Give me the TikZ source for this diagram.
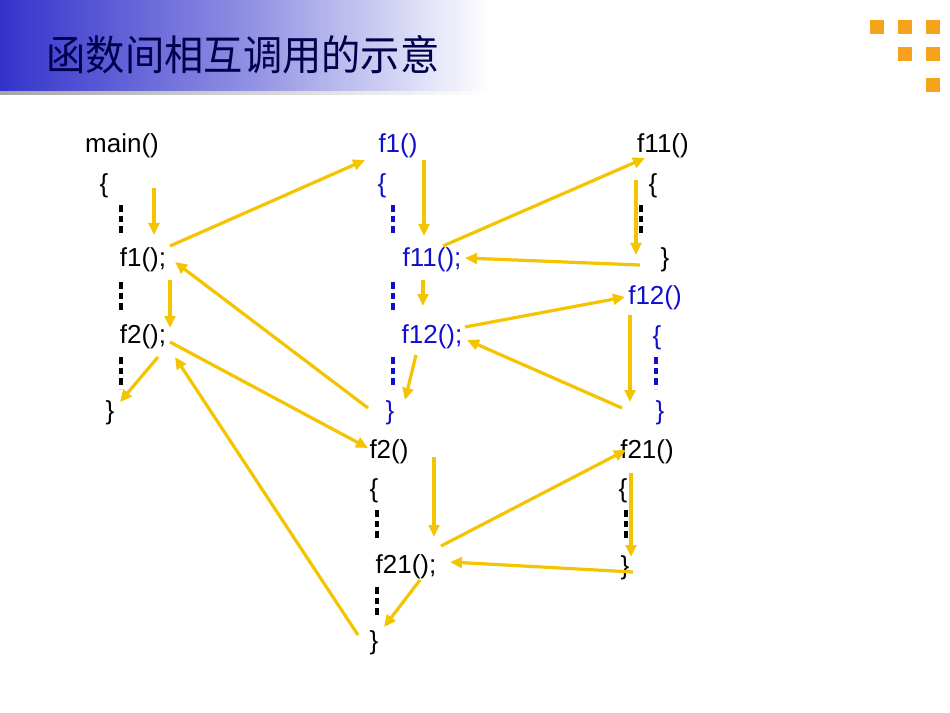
\documentclass[tikz,border=0pt]{standalone}
\usepackage{fontspec}
\setmainfont{Liberation Sans}
\newfontfamily\cjk{Noto Sans CJK SC}
\usetikzlibrary{arrows.meta}
\definecolor{gold}{HTML}{F5C400}
\definecolor{fblue}{HTML}{1010CC}
\definecolor{tblue}{HTML}{3333CC}
\definecolor{orng}{HTML}{F7A21B}
\tikzset{
  txt/.style={font=\fontsize{19.5}{22}\selectfont, inner sep=0pt},
  bl/.style={txt, text=fblue},
  arr/.style={draw=gold, line width=2.4pt, -{Triangle[length=9pt,width=8pt]}},
  mk/.style={line width=3.2pt, dash pattern=on 5pt off 3pt},
  sq/.style={fill=orng, draw=none}
}
\newcommand{\myarr}[5]{\coordinate (#5s) at (#1,#2); \coordinate (#5e) at (#3,#4); \draw[arr] (#5s) -- (#5e);}
\newcommand{\mymk}[4]{\coordinate (#4a) at (#1,#2); \coordinate (#4b) at (#1,#3); \draw[mk,#4c] (#4a) -- (#4b);}
\begin{document}
\begin{tikzpicture}[x=0.75pt,y=-0.75pt]
\useasboundingbox (0,0) rectangle (950,713);
\fill[white] (0,0) rectangle (950,713);
\shade[left color=tblue, right color=white, middle color=tblue!55] (0,0) rectangle (490,93);
\shade[left color=gray!70, right color=white] (0,92) rectangle (490,95);
\node[inner sep=0pt, text=blue!30!black, font=\cjk\fontsize{31}{34}\selectfont, xscale=0.95] (title) at (243,55) {函数间相互调用的示意};
\foreach \x/\y [count=\i] in {870/20,898/20,926/20,898/47,926/47,926/78}
  \path[sq] (\x,\y) rectangle ++(14,14) node (sq\i) {};
% main column
\node[txt] (main) at (122,146) {main()};
\node[txt] (mo) at (104,186) {\{};
\node[txt] (mf1) at (143,260) {f1();};
\node[txt] (mf2) at (143,337) {f2();};
\node[txt] (mc) at (110,413) {\}};
% f1
\node[bl] (f1) at (398,146) {f1()};
\node[bl] (f1o) at (382,186) {\{};
\node[bl] (f1a) at (432,260) {f11();};
\node[bl] (f1b) at (432,337) {f12();};
\node[bl] (f1c) at (390,413) {\}};
% f11
\node[txt] (f11) at (663,146) {f11()};
\node[txt] (f11o) at (653,186) {\{};
\node[txt] (f11c) at (665,260) {\}};
% f12
\node[bl] (f12) at (655,298) {f12()};
\node[bl] (f12o) at (657,338) {\{};
\node[bl] (f12c) at (660,413) {\}};
% f2
\node[txt] (f2) at (389,452) {f2()};
\node[txt] (f2o) at (374,491) {\{};
\node[txt] (f2a) at (406,567) {f21();};
\node[txt] (f2c) at (374,643) {\}};
% f21
\node[txt] (f21) at (647,452) {f21()};
\node[txt] (f21o) at (623,491) {\{};
\node[txt] (f21c) at (625,568) {\}};
% markers
\tikzset{k1c/.style={black},k2c/.style={black},k3c/.style={black},
 b1c/.style={fblue},b2c/.style={fblue},b3c/.style={fblue},
 c1c/.style={black},d1c/.style={fblue},e1c/.style={black},e2c/.style={black},g1c/.style={black}}
\mymk{121}{205}{236}{k1}
\mymk{121}{282}{313}{k2}
\mymk{121}{357}{389}{k3}
\mymk{393}{205}{236}{b1}
\mymk{393}{282}{313}{b2}
\mymk{393}{357}{389}{b3}
\mymk{641}{205}{236}{c1}
\mymk{656}{357}{389}{d1}
\mymk{377}{510}{541}{e1}
\mymk{377}{587}{618}{e2}
\mymk{626}{510}{541}{g1}
% arrows
\myarr{154}{188}{154}{235}{a1}
\myarr{170}{246}{365}{160}{a2}
\myarr{170}{280}{170}{328}{a3}
\myarr{158}{357}{120}{402}{a4}
\myarr{170}{342}{368}{448}{a5}
\myarr{368}{408}{175}{262}{a6}
\myarr{358}{635}{175}{357}{a7}
\myarr{424}{160}{424}{236}{a8}
\myarr{443}{246}{645}{158}{a9}
\myarr{640}{265}{465}{258}{a10}
\myarr{423}{280}{423}{306}{a11}
\myarr{465}{327}{625}{297}{a12}
\myarr{622}{408}{467}{340}{a13}
\myarr{416}{355}{405}{400}{a14}
\myarr{636}{180}{636}{255}{a15}
\myarr{630}{315}{630}{402}{a16}
\myarr{434}{457}{434}{537}{a17}
\myarr{441}{546}{626}{450}{a18}
\myarr{633}{572}{450}{562}{a19}
\myarr{420}{580}{384}{627}{a20}
\myarr{631}{473}{631}{557}{a21}
\end{tikzpicture}
\end{document}
